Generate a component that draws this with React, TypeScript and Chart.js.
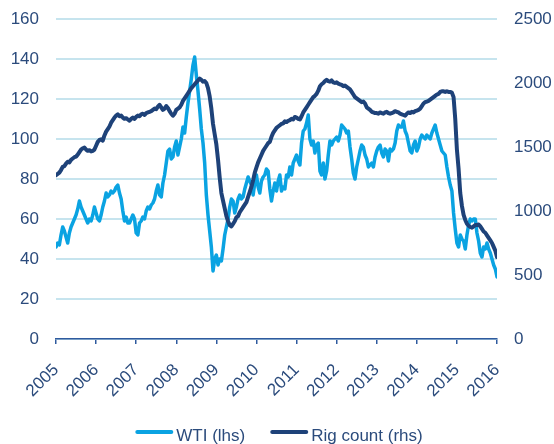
import React, { useEffect, useRef } from "react";
import { Chart, registerables } from "chart.js";

Chart.register(...registerables);

const START_YEAR = 2005;
const STEPS_PER_YEAR = 24; // semi-monthly observations
const yearLabels = [2005, 2006, 2007, 2008, 2009, 2010, 2011, 2012, 2013, 2014, 2015, 2016];

// WTI crude price, USD/bbl (left axis)
const wti = [
  // 2005
  46, 48, 47, 52, 56, 54, 51, 48, 53, 56, 58, 60, 62, 65, 69, 66, 64, 62, 60, 58, 60, 59, 62, 66,
  // 2006
  63, 60, 59, 62, 66, 69, 73, 71, 72, 74, 73, 74, 76, 77, 73, 70, 64, 59, 61, 58, 58, 60, 62, 60,
  // 2007
  53, 52, 58, 59, 61, 60, 64, 66, 65, 67, 68, 70, 74, 77, 72, 71, 78, 82, 88, 94, 95, 90, 91, 96,
  // 2008
  99, 92, 96, 100, 106, 103, 111, 118, 124, 130, 137, 141, 132, 124, 115, 105, 98, 88, 72, 62, 54, 46, 34, 40,
  // 2009
  42, 37, 40, 39, 45, 52, 56, 60, 66, 70, 69, 63, 66, 70, 72, 70, 71, 75, 78, 81, 79, 77, 72, 78,
  // 2010
  82, 76, 73, 79, 81, 82, 85, 84, 75, 69, 74, 78, 74, 79, 82, 74, 76, 75, 82, 81, 86, 82, 88, 90,
  // 2011
  92, 89, 87, 98, 104, 105, 108, 112, 100, 97, 99, 93, 97, 98, 84, 82, 88, 80, 84, 92, 99, 97, 99, 100,
  // 2012
  101, 99, 102, 107, 106, 105, 103, 104, 96, 90, 83, 80, 86, 90, 94, 97, 96, 92, 90, 86, 87, 88, 86, 91,
  // 2013
  94, 96, 97, 93, 91, 95, 94, 89, 95, 94, 95, 98, 104, 107, 106, 106, 109, 104, 102, 98, 94, 93, 97, 99,
  // 2014
  94, 96, 100, 102, 101, 100, 102, 101, 100, 103, 105, 107, 103, 100, 97, 94, 93, 92, 86, 81, 77, 74, 63, 55,
  // 2015
  48, 46, 52, 50, 49, 45, 52, 57, 60, 59, 60, 60, 53, 49, 43, 41, 46, 45, 48, 45, 43, 40, 37, 35,
  // 2016
  31,
];

// US oil & gas rig count (right axis)
const rigCount = [
  // 2005
  1280, 1290, 1300, 1320, 1345, 1350, 1370, 1385, 1380, 1400, 1410, 1420, 1425, 1440, 1460, 1480, 1490, 1495, 1480, 1470, 1475, 1465, 1470, 1480,
  // 2006
  1510, 1540, 1555, 1560, 1550, 1590, 1620, 1640, 1660, 1690, 1710, 1730, 1745, 1755, 1740, 1745, 1730, 1720, 1725, 1715, 1705, 1720, 1730, 1720,
  // 2007
  1735, 1745, 1740, 1755, 1760, 1750, 1765, 1770, 1775, 1780, 1790, 1800, 1795, 1815, 1830, 1810, 1790, 1800, 1820, 1805, 1780, 1760, 1745, 1760,
  // 2008
  1790, 1800, 1810, 1830, 1860, 1880, 1900, 1920, 1940, 1960, 1975, 1990, 2005, 2020, 2035, 2025, 2010, 2015, 2000, 1960, 1895, 1800, 1680, 1600,
  // 2009
  1520, 1400, 1260, 1140, 1080, 1020, 960, 920, 890, 880, 900, 920, 950, 960, 990, 1010, 1030, 1050, 1070, 1110, 1150, 1190, 1240, 1300,
  // 2010
  1340, 1380, 1410, 1440, 1470, 1490, 1510, 1530, 1540, 1580, 1610, 1630, 1650, 1660, 1670, 1680, 1685, 1700, 1695, 1705, 1710, 1720, 1715, 1735,
  // 2011
  1730, 1720, 1715, 1740, 1770, 1790, 1810, 1830, 1850, 1870, 1890, 1900, 1915, 1940, 1975, 1990, 2000, 2015, 2025, 2015, 2010, 2020, 2005, 2000,
  // 2012
  2005, 1995, 1990, 1985, 1975, 1980, 1970, 1960, 1950, 1930, 1910, 1890, 1880, 1870, 1860, 1850, 1855, 1840, 1810, 1800, 1790, 1775, 1770, 1765,
  // 2013
  1765, 1760, 1770, 1765, 1760, 1770, 1775, 1765, 1760, 1765, 1770, 1780, 1775, 1770, 1760, 1755, 1750, 1745, 1760, 1770, 1765, 1775, 1770, 1780,
  // 2014
  1785, 1790, 1800, 1820, 1840, 1850, 1855, 1860, 1870, 1880, 1890, 1900, 1910, 1915, 1930, 1935, 1935, 1930, 1935, 1930, 1930, 1925, 1890, 1720,
  // 2015
  1480, 1330, 1140, 1040, 970, 930, 900, 885, 875, 870, 880, 890, 890, 895, 880, 860, 840, 830, 810, 790, 770, 750, 720, 690,
  // 2016
  640,
];

const seriesNames = ["WTI (lhs)", "Rig count (rhs)"];
const WTI_COLOR = "#0AA3E2";
const RIG_COLOR = "#1E4279";
const TEXT_COLOR = "#2B4B7C";
const GRID_COLOR = "#C6E4EE";
const AXIS_COLOR = "#2F5A9E";
const FONT_FAMILY = "'Liberation Sans', Arial, sans-serif";
const FONT_SIZE = 17;

const toPoints = (arr: number[]) =>
  arr.map((v, i) => ({ x: START_YEAR + i / STEPS_PER_YEAR, y: v }));

// Legend drawn as line samples followed closely by text, centred under the chart
const lineLegend = {
  id: "lineLegend",
  afterDraw(chart: any) {
    const ctx = chart.ctx;
    const sampleW = 38;
    const textGap = 3;
    const itemGap = 25;
    ctx.save();
    ctx.font = `${FONT_SIZE}px ${FONT_FAMILY}`;
    const items = chart.data.datasets.map((ds: any) => {
      const tw = ctx.measureText(ds.label).width;
      return { label: ds.label, color: ds.borderColor, w: sampleW + textGap + tw };
    });
    const total = items.reduce((s: number, it: any) => s + it.w, 0) + itemGap * (items.length - 1);
    let x = (chart.width - total) / 2 + 2;
    const lineY = chart.height - 12;
    const textY = chart.height - 3.5;
    items.forEach((it: any) => {
      ctx.strokeStyle = it.color;
      ctx.lineWidth = 4;
      ctx.lineCap = "round";
      ctx.beginPath();
      ctx.moveTo(x + 2, lineY);
      ctx.lineTo(x + sampleW - 2, lineY);
      ctx.stroke();
      ctx.fillStyle = TEXT_COLOR;
      ctx.textAlign = "left";
      ctx.textBaseline = "alphabetic";
      ctx.fillText(it.label, x + sampleW + textGap, textY);
      x += it.w + itemGap;
    });
    ctx.restore();
  },
};

const fixYAxis = (width: number) => (scale: any) => {
  scale.width = width;
  scale.paddingTop = 0;
  scale.paddingBottom = 0;
};

export default function App() {
  const canvasRef = useRef<HTMLCanvasElement | null>(null);

  useEffect(() => {
    if (!canvasRef.current) return;
    Chart.defaults.font.family = FONT_FAMILY;
    const chart = new Chart(canvasRef.current, {
      type: "line",
      data: {
        datasets: [
          {
            label: seriesNames[0],
            data: toPoints(wti),
            borderColor: WTI_COLOR,
            backgroundColor: WTI_COLOR,
            borderWidth: 3.5,
            pointRadius: 0,
            tension: 0,
            yAxisID: "y",
            borderJoinStyle: "round",
            borderCapStyle: "round",
            order: 2,
          },
          {
            label: seriesNames[1],
            data: toPoints(rigCount),
            borderColor: RIG_COLOR,
            backgroundColor: RIG_COLOR,
            borderWidth: 4,
            pointRadius: 0,
            tension: 0,
            yAxisID: "y1",
            borderJoinStyle: "round",
            borderCapStyle: "round",
            order: 1,
          },
        ],
      },
      plugins: [lineLegend],
      options: {
        animation: false,
        responsive: true,
        maintainAspectRatio: false,
        layout: { padding: { top: 19, left: 0, right: 0, bottom: 0 } },
        plugins: {
          tooltip: { enabled: false },
          legend: { display: false },
        },
        scales: {
          x: {
            type: "linear",
            min: 2005,
            max: 2016,
            afterBuildTicks: (scale: any) => {
              scale.ticks = yearLabels.map((v) => ({ value: v }));
            },
            afterFit: (scale: any) => {
              scale.height = 105;
            },
            ticks: {
              stepSize: 1,
              color: TEXT_COLOR,
              font: { size: FONT_SIZE },
              minRotation: 45,
              maxRotation: 45,
              padding: 16,
              callback: (v: any) => String(v),
            },
            grid: {
              drawOnChartArea: false,
              drawTicks: true,
              tickLength: 5,
              color: AXIS_COLOR,
              lineWidth: 1.5,
            },
            border: { display: true, color: AXIS_COLOR, width: 1.5 },
          },
          y: {
            position: "left",
            min: 0,
            max: 160,
            afterFit: fixYAxis(56),
            ticks: {
              stepSize: 20,
              color: TEXT_COLOR,
              font: { size: FONT_SIZE },
              padding: 17,
            },
            grid: { color: GRID_COLOR, lineWidth: 2, drawTicks: false },
            border: { display: false },
          },
          y1: {
            position: "right",
            min: 0,
            max: 2500,
            afterFit: fixYAxis(57),
            ticks: {
              stepSize: 500,
              color: TEXT_COLOR,
              font: { size: FONT_SIZE },
              padding: 17,
              callback: (v: any) => String(v),
            },
            grid: { display: false, drawTicks: false },
            border: { display: false },
          },
        },
      },
    });
    return () => chart.destroy();
  }, []);

  return (
    <div style={{ position: "absolute", left: 0, top: 0, width: 554, height: 444, background: "#fff" }}>
      <canvas ref={canvasRef} />
    </div>
  );
}
